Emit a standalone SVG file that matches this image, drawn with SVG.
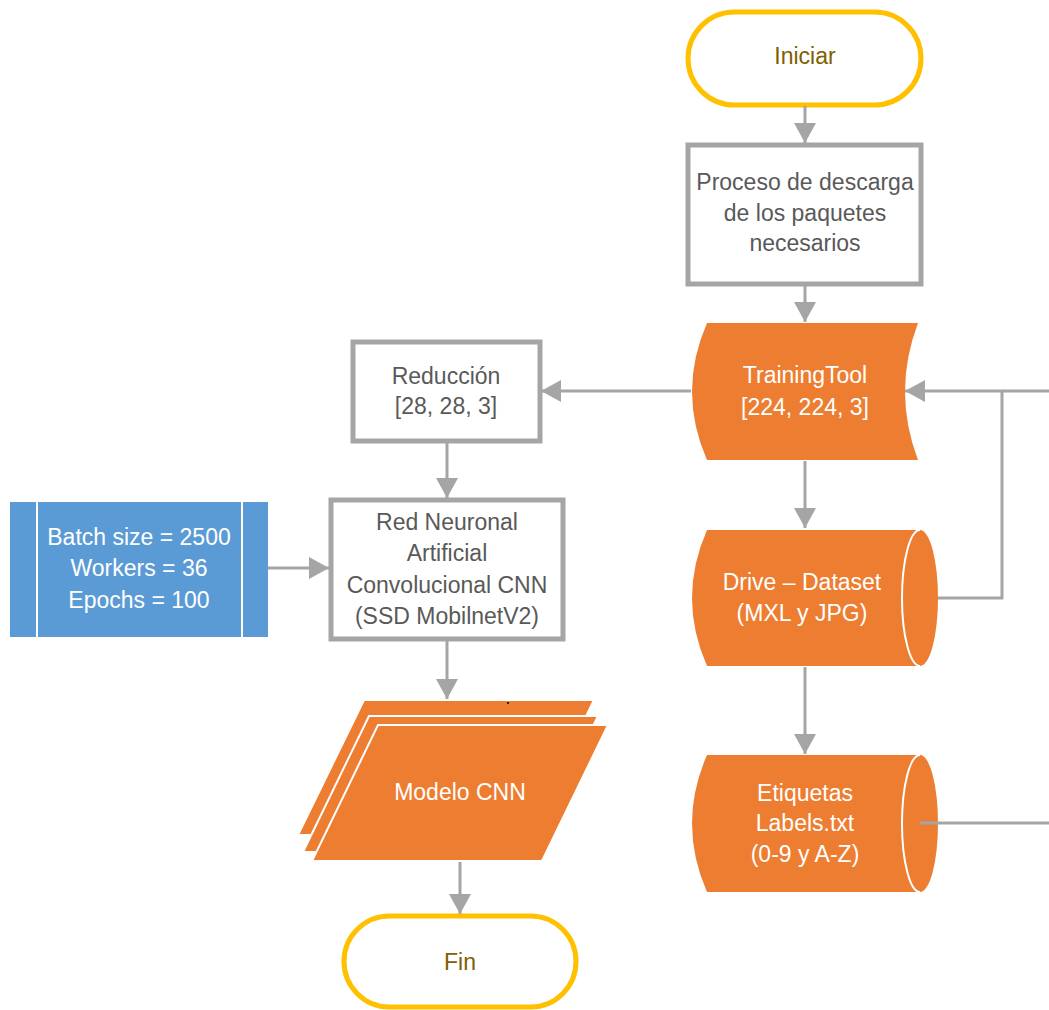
<svg xmlns="http://www.w3.org/2000/svg" width="1049" height="1010" viewBox="0 0 1049 1010">
<defs>
<marker id="arr" markerUnits="userSpaceOnUse" markerWidth="21" markerHeight="22" refX="20" refY="11" orient="auto">
<path d="M0,0 L20,11 L0,22 Z" fill="#A5A5A5"/>
</marker>
<style>
text{font-family:"Liberation Sans",Arial,sans-serif;font-size:23px;text-anchor:middle}
.term{fill:#fff;stroke:#FFC000;stroke-width:5}
.termt{fill:#7F6000}
.proc{fill:#fff;stroke:#A5A5A5;stroke-width:5}
.proct{fill:#595959}
.org{fill:#ED7D31}
.wt{fill:#fff}
.conn{fill:none;stroke:#A5A5A5;stroke-width:3}
</style>
</defs>
<rect width="1049" height="1010" fill="#fff"/>
<g id="iniciar">
<rect class="term" x="688" y="12" width="233" height="93" rx="46.5"/>
<text class="termt" x="805" y="64">Iniciar</text>
</g>
<g id="proceso">
<rect class="proc" x="688" y="145" width="233" height="139"/>
<text class="proct" x="805" y="190">Proceso de descarga</text>
<text class="proct" x="805" y="221">de los paquetes</text>
<text class="proct" x="805" y="251">necesarios</text>
</g>
<g id="trainingtool">
<path class="org" d="M707,323 L918,323 Q892,391.5 918,460 L707,460 Q677,391.5 707,323 Z"/>
<text class="wt" x="805" y="383">TrainingTool</text>
<text class="wt" x="805" y="415">[224, 224, 3]</text>
</g>
<g id="drive">
<path class="org" d="M707,530 L920,530 A18,68 0 0 1 920,666 L707,666 Q677,598 707,530 Z"/>
<path d="M920,530 A18,68 0 0 0 920,666" fill="none" stroke="#fff" stroke-width="2"/>
<text class="wt" x="802" y="590">Drive – Dataset</text>
<text class="wt" x="802" y="621">(MXL y JPG)</text>
</g>
<g id="etiquetas">
<path class="org" d="M707,755 L920,755 A18,68.5 0 0 1 920,892 L707,892 Q677,823.5 707,755 Z"/>
<path d="M920,755 A18,68.5 0 0 0 920,892" fill="none" stroke="#fff" stroke-width="2"/>
<text class="wt" x="805" y="801">Etiquetas</text>
<text class="wt" x="805" y="831">Labels.txt</text>
<text class="wt" x="805" y="862">(0-9 y A-Z)</text>
</g>
<g id="reduccion">
<rect class="proc" x="353" y="342" width="187" height="99"/>
<text class="proct" x="446" y="384">Reducción</text>
<text class="proct" x="446" y="414">[28, 28, 3]</text>
</g>
<g id="red">
<rect class="proc" x="331" y="500" width="232" height="139"/>
<text class="proct" x="447" y="530">Red Neuronal</text>
<text class="proct" x="447" y="561">Artificial</text>
<text class="proct" x="447" y="593">Convolucional CNN</text>
<text class="proct" x="447" y="624">(SSD MobilnetV2)</text>
</g>
<g id="parametros">
<rect x="10" y="502" width="258" height="135" fill="#5B9BD5"/>
<line x1="37" y1="502" x2="37" y2="637" stroke="#fff" stroke-width="2"/>
<line x1="242" y1="502" x2="242" y2="637" stroke="#fff" stroke-width="2"/>
<text class="wt" x="139" y="545">Batch size = 2500</text>
<text class="wt" x="139" y="576">Workers = 36</text>
<text class="wt" x="139" y="608">Epochs = 100</text>
</g>
<g id="modelo">
<path class="org" d="M364,700 L594,700 L528,835 L298,835 Z" stroke="#fff" stroke-width="2"/>
<path class="org" d="M369,716 L598,716 L532,852 L303,852 Z" stroke="#fff" stroke-width="2"/>
<path class="org" d="M378,725 L608,725 L542,861 L312,861 Z" stroke="#fff" stroke-width="2"/>
<circle cx="508" cy="703" r="1" fill="#000"/>
<text class="wt" x="460" y="800">Modelo CNN</text>
</g>
<g id="fin">
<rect class="term" x="344" y="916" width="232" height="91" rx="45.5"/>
<text class="termt" x="460" y="970">Fin</text>
</g>
<g id="connectors">
<path class="conn" d="M805,106 V143" marker-end="url(#arr)"/>
<path class="conn" d="M805,286 V322" marker-end="url(#arr)"/>
<path class="conn" d="M691,391 H541" marker-end="url(#arr)"/>
<path class="conn" d="M805,461 V528" marker-end="url(#arr)"/>
<path class="conn" d="M805,667 V754" marker-end="url(#arr)"/>
<path class="conn" d="M938,598 H1002 V391 H905" marker-end="url(#arr)"/>
<path class="conn" d="M1049,391 H1002"/>
<path class="conn" d="M920,823 H1049"/>
<path class="conn" d="M447,443 V498" marker-end="url(#arr)"/>
<path class="conn" d="M268,568 H329" marker-end="url(#arr)"/>
<path class="conn" d="M447,641 V699" marker-end="url(#arr)"/>
<path class="conn" d="M460,862 V914" marker-end="url(#arr)"/>
</g>
</svg>
